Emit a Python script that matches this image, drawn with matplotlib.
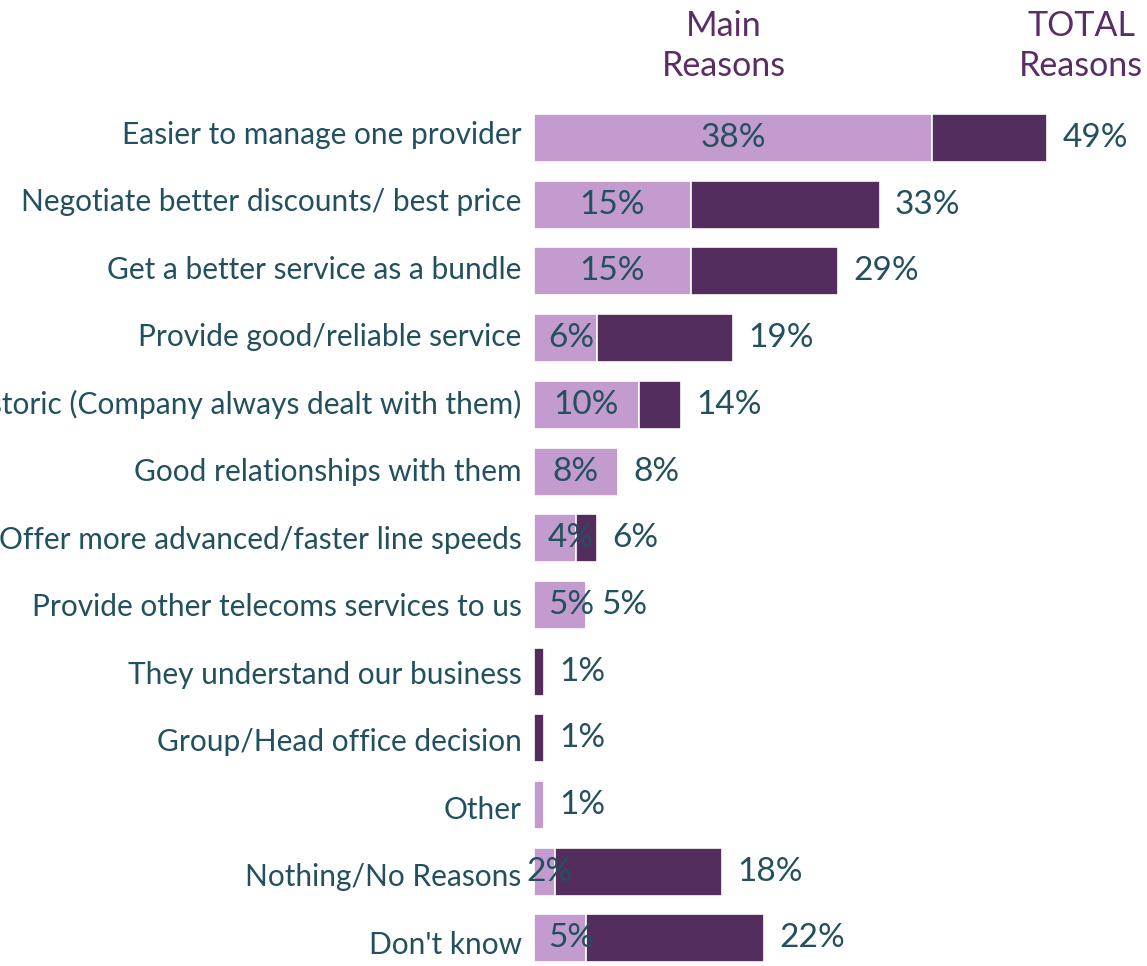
import matplotlib
matplotlib.use('agg')
import matplotlib.pyplot as plt

##### Data
categories = ['Easier to manage one provider',
              'Negotiate better discounts/ best price',
              'Get a better service as a bundle',
              'Provide good/reliable service',
              'Historic (Company always dealt with them)',
              'Good relationships with them',
              'Offer more advanced/faster line speeds',
              'Provide other telecoms services to us',
              'They understand our business',
              'Group/Head office decision',
              'Other',
              'Nothing/No Reasons',
              "Don't know"]
main_pct = [38, 15, 15, 6, 10, 8, 4, 5, 0, 0, 1, 2, 5]
total_pct = [49, 33, 29, 19, 14, 8, 6, 5, 1, 1, 1, 18, 22]

##### Settings
light = '#C39BCE'
dark = '#532D5E'
txt = '#22505E'
head = '#5B2D66'
plt.rcParams['font.family'] = ['Lato', 'DejaVu Sans']

fig = plt.figure(figsize=(11.47, 9.66), dpi=100)
ax = fig.add_axes([534/1147, 0, 1 - 534/1147, 1 - 104.7/966])

y = list(range(len(categories)))
extra = [t - m for t, m in zip(total_pct, main_pct)]
ax.barh(y, main_pct, height=0.72, color=light, edgecolor='white', linewidth=1.2)
ax.barh(y, extra, left=main_pct, height=0.72, color=dark, edgecolor='white', linewidth=1.2)

for i in y:
    m = main_pct[i]
    t = total_pct[i]
    if m >= 2:
        xm = max(m / 2., 3.55) if m >= 4 else m * 0.75
        ax.text(xm, i, '%d%%' % m, ha='center', va='center', fontsize=24, color=txt)
    ax.annotate('%d%%' % t, (t, i), xytext=(11, 0), textcoords='offset points',
                ha='left', va='center', fontsize=24, color=txt)
    # category names sit on a slightly wider pitch than the bars
    ax.text(-0.02, 1.012 * i - 0.05, categories[i], transform=ax.get_yaxis_transform(),
            ha='right', va='center', fontsize=21.5, color=txt, clip_on=False)

ax.set_xlim(0, (1147 - 534) / 10.47)
ax.set_ylim((966 - 138) / 66.7, -0.5)
ax.axis('off')

fig.text(724/1147, 1 - 46/966, 'Main\nReasons', ha='center', va='center',
         fontsize=24.5, color=head, linespacing=1.3)
fig.text(1081/1147, 1 - 46/966, 'TOTAL\nReasons', ha='center', va='center',
         fontsize=24.5, color=head, linespacing=1.3)

plt.savefig('out.png', dpi=100)
